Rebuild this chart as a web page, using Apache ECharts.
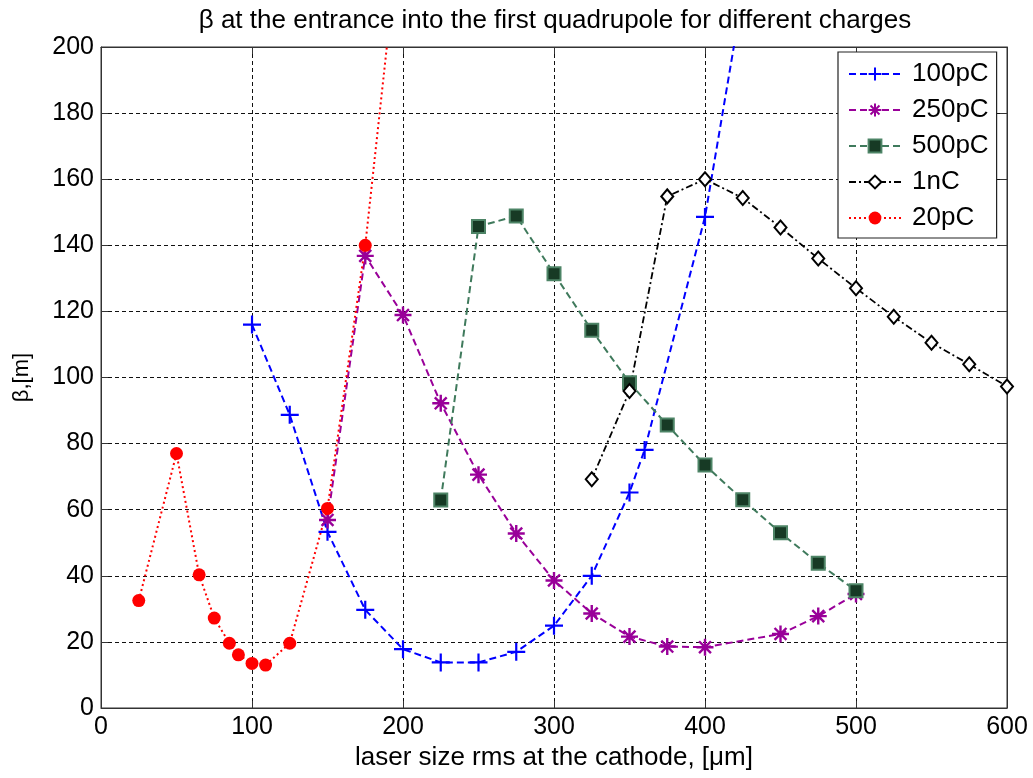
<!DOCTYPE html>
<html>
<head>
<meta charset="utf-8">
<script src="https://cdn.jsdelivr.net/npm/echarts@6/dist/echarts.min.js"></script>
<style>
html, body { margin: 0; padding: 0; background: #fff; }
#chart { width: 1033px; height: 778px; }
</style>
</head>
<body>
<div id="chart"></div>
<script>
// Beta function at the first quadrupole vs. laser spot size, one curve per bunch charge
const xTickLabels = ['0', '100', '200', '300', '400', '500', '600'];
const yTickLabels = ['0', '20', '40', '60', '80', '100', '120', '140', '160', '180', '200'];

const x100pC = [100, 125, 150, 175, 200, 225, 250, 275, 300, 325, 350, 360, 400, 425];
const y100pC = [116, 88.7, 53.3, 29.7, 17.8, 13.8, 13.8, 17, 24.9, 40, 65.2, 78.1, 148.6, 216];

const x250pC = [150, 175, 200, 225, 250, 275, 300, 325, 350, 375, 400, 450, 475, 500];
const y250pC = [56.9, 136.8, 118.9, 92.2, 70.6, 52.8, 38.6, 28.6, 21.6, 18.6, 18.4, 22.4, 27.8, 34.5];

const x500pC = [225, 250, 275, 300, 325, 350, 375, 400, 425, 450, 475, 500];
const y500pC = [62.9, 145.7, 148.9, 131.4, 114.3, 98.4, 85.6, 73.5, 63, 53, 43.8, 35.5];

const x1nC = [325, 350, 375, 400, 425, 450, 475, 500, 525, 550, 575, 600];
const y1nC = [69.2, 95.9, 154.8, 160, 154.3, 145.4, 136, 127, 118.4, 110.5, 104, 97.3];

const x20pC = [25, 50, 65, 75, 85, 91, 100, 109, 125, 150, 175, 200];
const y20pC = [32.5, 77, 40.3, 27.2, 19.6, 16.1, 13.5, 13, 19.6, 60.4, 140, 245];

const pairs = (xs, ys) => xs.map((x, i) => [x, ys[i]]);

const FONT = "'Liberation Sans', Arial, sans-serif";
const xMin = Number(xTickLabels[0]), xMax = Number(xTickLabels[xTickLabels.length - 1]);
const yMin = Number(yTickLabels[0]), yMax = Number(yTickLabels[yTickLabels.length - 1]);
const xStep = Number(xTickLabels[1]) - xMin, yStep = Number(yTickLabels[1]) - yMin;

const PLUS = 'path://M5,0L5,10M0,5L10,5';
const STAR = 'path://M5,0L5,10M0,5L10,5M1.5,1.5L8.5,8.5M8.5,1.5L1.5,8.5';

const axisBase = {
  type: 'value',
  axisLine: { show: true, onZero: false, lineStyle: { color: '#333', width: 1 } },
  axisTick: { show: true, inside: true, length: 7, lineStyle: { color: '#333' } }
};

const chart = echarts.init(document.getElementById('chart'), null, { renderer: 'canvas' });
chart.setOption({
  animation: false,
  backgroundColor: '#fff',
  title: {
    text: 'β at the entrance into the first quadrupole for different charges',
    left: 550, top: 3, textAlign: 'center',
    textStyle: { fontFamily: FONT, fontSize: 26, fontWeight: 'normal', color: '#000' }
  },
  grid: { left: 101, top: 47, width: 906, height: 661, show: true, borderColor: '#333', borderWidth: 1, backgroundColor: 'transparent' },
  legend: {
    orient: 'vertical', left: 838, top: 52,
    padding: [9, 8, 7, 10],
    itemWidth: 52, itemHeight: 16, itemGap: 10,
    backgroundColor: '#fff', borderColor: '#222', borderWidth: 1.2,
    textStyle: { fontFamily: FONT, fontSize: 26, color: '#000', lineHeight: 26, padding: [0, 0, 0, 6] },
    data: ['100pC', '250pC', '500pC', '1nC', '20pC']
  },
  xAxis: [
    Object.assign({}, axisBase, {
      min: xMin, max: xMax, interval: xStep, position: 'bottom',
      name: 'laser size rms at the cathode, [μm]', nameLocation: 'middle', nameGap: 28,
      nameTextStyle: { fontFamily: FONT, fontSize: 26, color: '#000' },
      axisLabel: { margin: 7, fontFamily: FONT, fontSize: 25, color: '#000' },
      splitLine: { show: true, lineStyle: { color: '#111', type: [4, 3], width: 1 } }
    }),
    Object.assign({}, axisBase, {
      min: xMin, max: xMax, interval: xStep, position: 'top',
      axisLabel: { show: false }, splitLine: { show: false }
    })
  ],
  yAxis: [
    Object.assign({}, axisBase, {
      min: yMin, max: yMax, interval: yStep, position: 'left',
      name: 'β,[m]', nameLocation: 'middle', nameGap: 68, nameRotate: 90,
      nameTextStyle: { fontFamily: FONT, fontSize: 22, color: '#000' },
      axisLabel: { margin: 7, fontFamily: FONT, fontSize: 25, color: '#000' },
      splitLine: { show: true, lineStyle: { color: '#111', type: [4, 3], width: 1 } }
    }),
    Object.assign({}, axisBase, {
      min: yMin, max: yMax, interval: yStep, position: 'right',
      axisLabel: { show: false }, splitLine: { show: false }
    })
  ],
  series: [
    {
      name: '100pC', type: 'line', data: pairs(x100pC, y100pC),
      symbol: PLUS, symbolSize: 18,
      lineStyle: { color: '#0000ff', width: 2, type: [7, 4] },
      itemStyle: { color: '#0000ff', borderColor: '#0000ff', borderWidth: 2.2 }
    },
    {
      name: '250pC', type: 'line', data: pairs(x250pC, y250pC),
      symbol: STAR, symbolSize: 17,
      lineStyle: { color: '#990099', width: 2, type: [7, 4] },
      itemStyle: { color: '#990099', borderColor: '#990099', borderWidth: 2.4 }
    },
    {
      name: '500pC', type: 'line', data: pairs(x500pC, y500pC),
      symbol: 'rect', symbolSize: 13,
      lineStyle: { color: '#3f7a5c', width: 2, type: [7, 4] },
      itemStyle: { color: '#173a25', borderColor: '#4d8466', borderWidth: 2 }
    },
    {
      name: '1nC', type: 'line', data: pairs(x1nC, y1nC),
      symbol: 'diamond', symbolSize: [12, 14],
      lineStyle: { color: '#000', width: 1.8, type: [7, 3, 2, 3] },
      itemStyle: { color: '#fff', borderColor: '#000', borderWidth: 2 }
    },
    {
      name: '20pC', type: 'line', data: pairs(x20pC, y20pC),
      symbol: 'circle', symbolSize: 13,
      lineStyle: { color: '#ff0000', width: 2, type: [2, 3] },
      itemStyle: { color: '#ff0000' }
    }
  ]
});
</script>
</body>
</html>
